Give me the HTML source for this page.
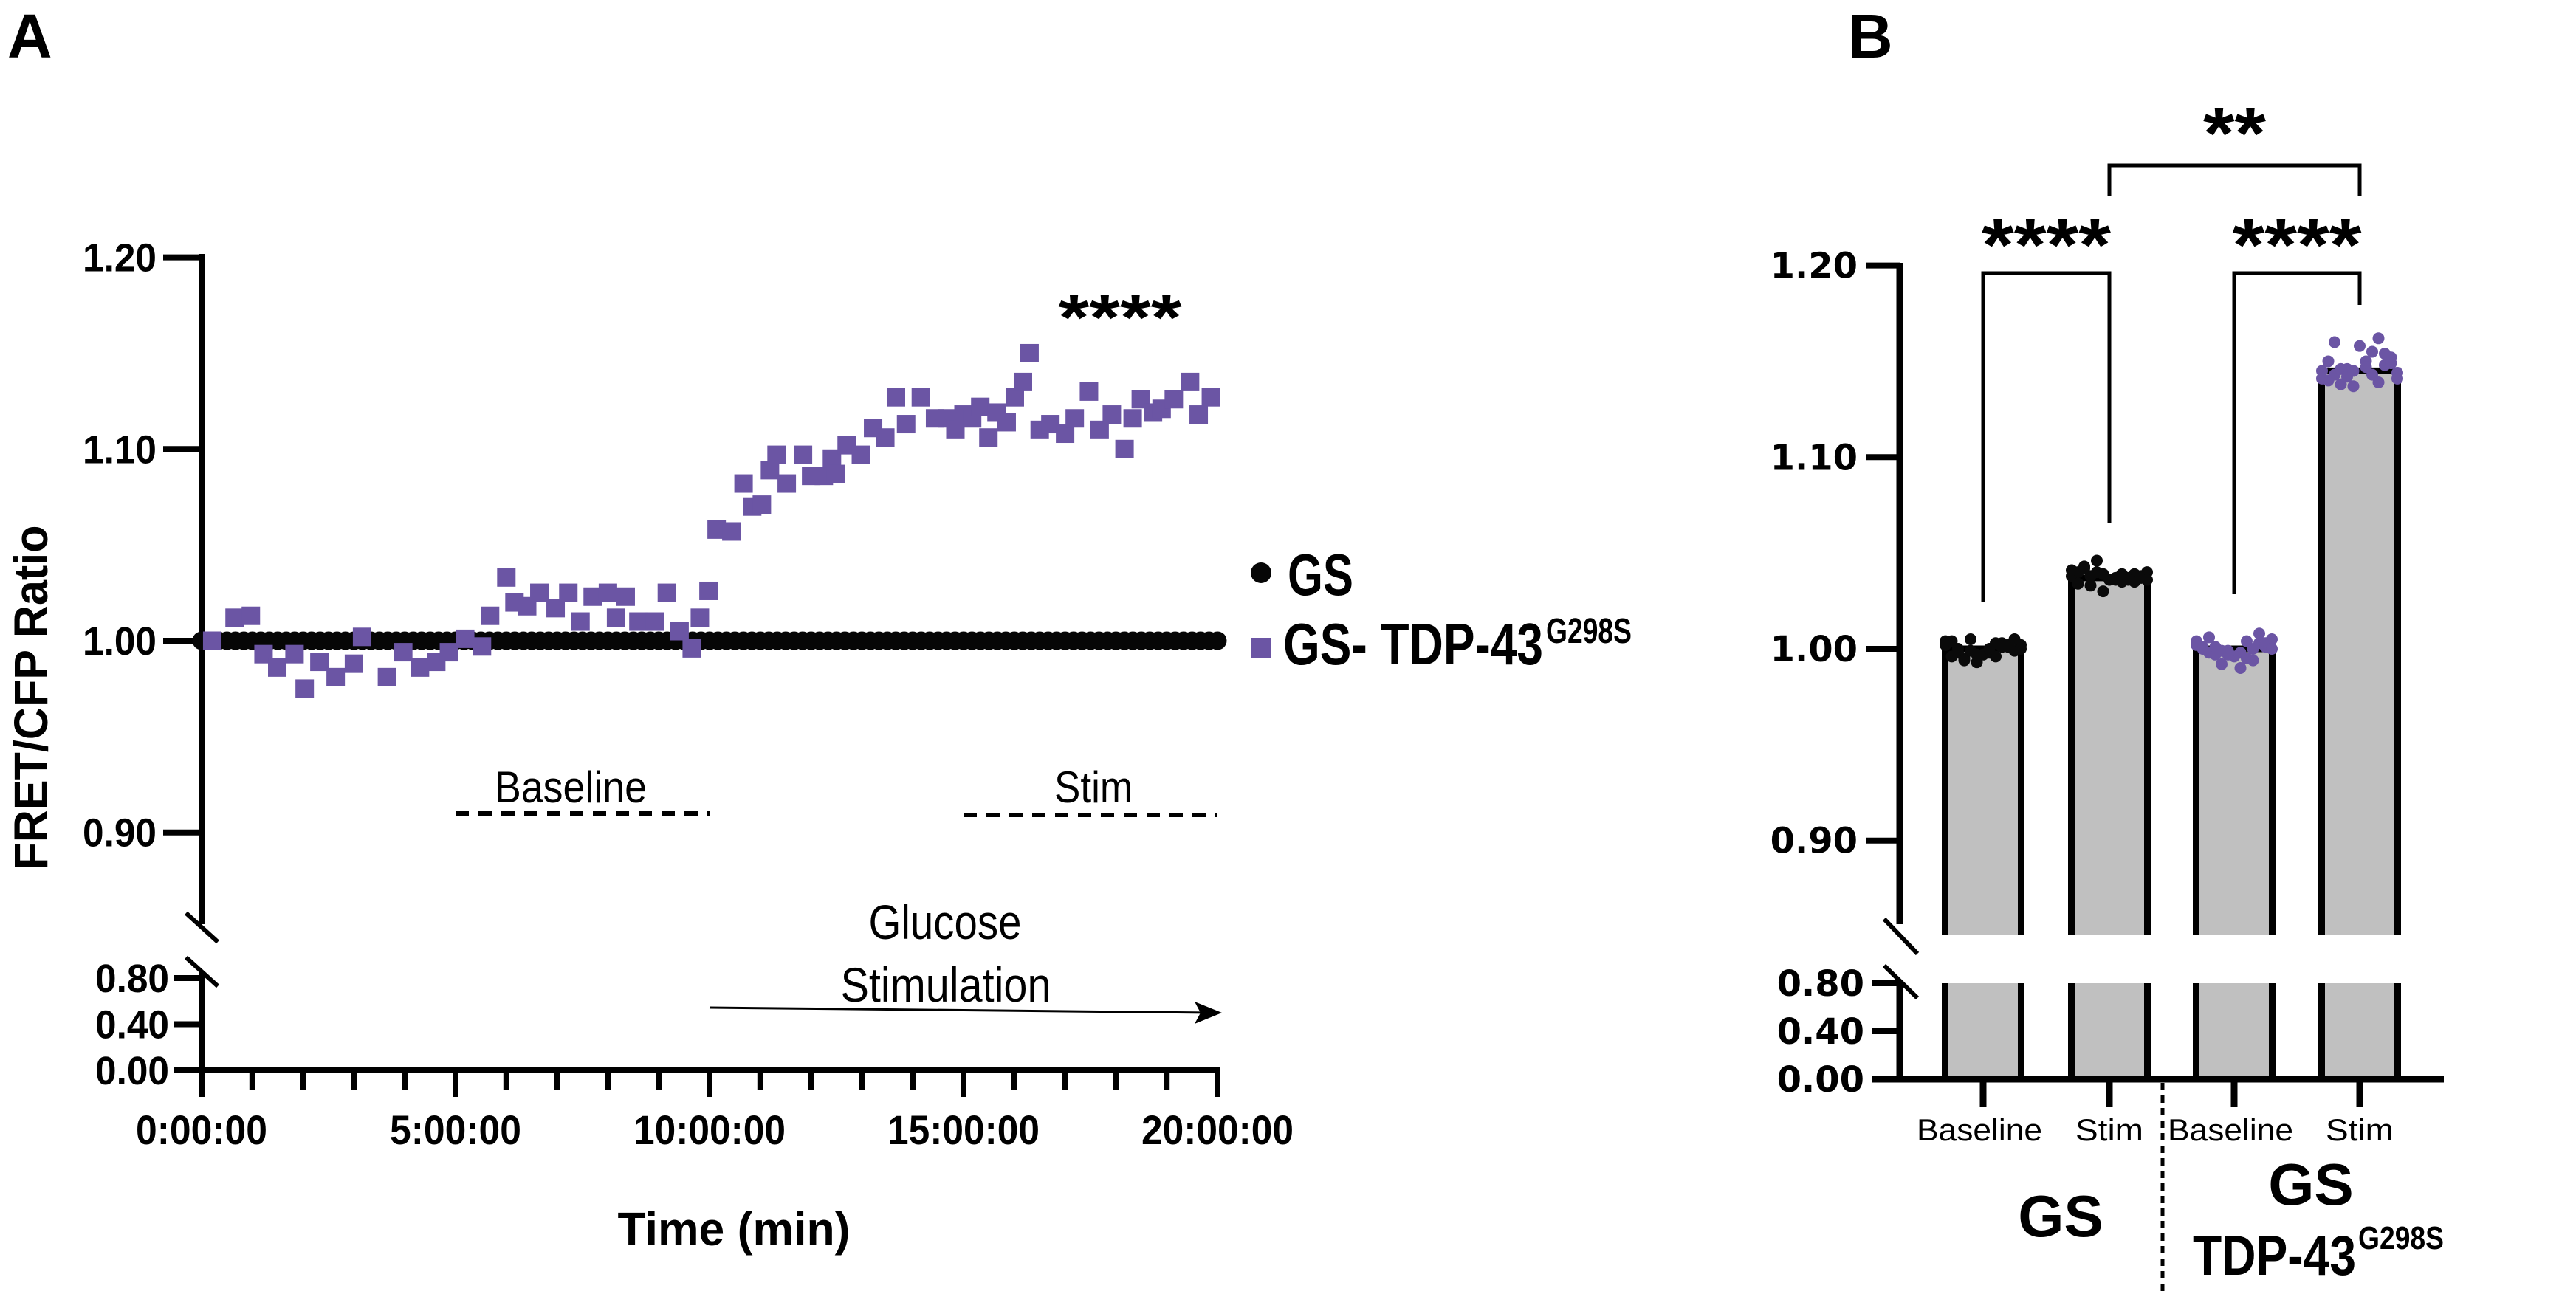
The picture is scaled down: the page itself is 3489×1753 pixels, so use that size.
<!DOCTYPE html>
<html><head><meta charset="utf-8"><style>
html,body{margin:0;padding:0;background:#fff;}
svg{display:block;}
.nb{font-family:"Liberation Sans",sans-serif;font-weight:bold;}
.nr{font-family:"Liberation Sans",sans-serif;}
.wb{font-family:"DejaVu Sans","Liberation Sans",sans-serif;font-weight:bold;}
.ab{font-family:"Liberation Sans",sans-serif;font-weight:bold;}
</style></head><body>
<svg id="fig" width="3489" height="1753" viewBox="0 0 3489 1753" xmlns="http://www.w3.org/2000/svg">
<text x="10" y="78" class="ab" font-size="84">A</text>
<text x="2503" y="78" class="ab" font-size="84">B</text>
<g id="A"></g>
<g id="B"></g>
</svg>
<script>
// ---------- Panel A data ----------
const aTickLabelsUpper = ["0.90","1.00","1.10","1.20"];
const aTickValuesUpper = [0.90,1.00,1.10,1.20];
const aTickLabelsLower = ["0.00","0.40","0.80"];
const aTickValuesLower = [0.00,0.40,0.80];
const aXTickLabels = ["0:00:00","5:00:00","10:00:00","15:00:00","20:00:00"];
const aXTickValues = [0,5,10,15,20];
const gsValues = [1,1,1,1,1,1,1,1,1,1,1,1,1,1,1,1,1,1,1,1,1,1,1,1,1,1,1,1,1,1,1,1,1,1,1,1,1,1,1,1,1,1,1,1,1,1,1,1,1,1,1,1,1,1,1,1,1,1,1,1,1,1,1,1,1,1,1,1,1,1,1,1,1,1,1,1,1,1,1,1,1,1,1,1,1,1,1,1,1,1,1,1,1,1,1,1,1,1,1,1,1,1,1,1,1,1,1,1,1,1,1,1,1,1,1,1,1,1,1,1,1];
const tdpTimes = [0.21,0.65,0.97,1.22,1.49,1.83,2.03,2.32,2.64,3.00,3.16,3.65,3.97,4.30,4.62,4.87,5.19,5.52,5.68,6.00,6.16,6.41,6.65,6.97,7.22,7.46,7.70,8.00,8.16,8.35,8.60,8.92,9.16,9.41,9.65,9.81,9.98,10.14,10.43,10.67,10.84,11.03,11.19,11.32,11.52,11.84,12.00,12.25,12.41,12.49,12.70,12.98,13.22,13.46,13.67,13.87,14.16,14.44,14.68,14.84,15.00,15.17,15.33,15.49,15.65,15.85,16.01,16.17,16.30,16.50,16.71,17.00,17.19,17.47,17.68,17.92,18.17,18.33,18.49,18.73,18.90,19.14,19.46,19.63,19.87];
const tdpValues = [1.000,1.012,1.013,0.993,0.986,0.993,0.975,0.989,0.981,0.988,1.002,0.981,0.994,0.986,0.989,0.994,1.001,0.997,1.013,1.033,1.020,1.018,1.025,1.017,1.025,1.010,1.023,1.025,1.012,1.023,1.010,1.010,1.025,1.005,0.996,1.012,1.026,1.058,1.057,1.082,1.070,1.071,1.089,1.097,1.082,1.097,1.086,1.086,1.095,1.087,1.102,1.097,1.111,1.106,1.127,1.113,1.127,1.116,1.116,1.110,1.118,1.116,1.122,1.106,1.119,1.114,1.127,1.135,1.150,1.110,1.113,1.108,1.116,1.130,1.110,1.118,1.100,1.116,1.126,1.119,1.121,1.126,1.135,1.118,1.127];

// ---------- Panel B data ----------
const bCategories = ["Baseline","Stim","Baseline","Stim"];
const bMeans = [1.000,1.037,1.000,1.145];
const bTickLabelsUpper = ["0.90","1.00","1.10","1.20"];
const bTickValuesUpper = [0.90,1.00,1.10,1.20];
const bTickLabelsLower = ["0.00","0.40","0.80"];
const bTickValuesLower = [0.00,0.40,0.80];
const gsBasePts = [1.002,0.998,1.004,0.996,1.000,1.003,0.995,1.001,1.005,0.999,0.993,1.002,0.997,1.004,1.000,0.996,1.003,0.998,1.001,0.994,1.002,0.999,1.005,0.997,1.000];
const gsStimPts = [1.038,1.036,1.040,1.035,1.042,1.037,1.033,1.039,1.046,1.038,1.030,1.040,1.036,1.041,1.037,1.034,1.039,1.043,1.036,1.038,1.035,1.040,1.037,1.039,1.036];
const tdpBasePts = [1.004,0.998,1.001,0.995,1.006,1.000,0.997,1.003,0.992,1.001,0.999,1.005,0.996,1.002,0.990,1.000,1.004,0.998,0.994,1.001,1.008,0.999,1.003,0.997,1.000];
const tdpStimPts = [1.145,1.150,1.140,1.155,1.143,1.162,1.138,1.148,1.146,1.152,1.137,1.144,1.158,1.141,1.147,1.150,1.143,1.160,1.139,1.146,1.154,1.142,1.149,1.145,1.141];
const bPointSets = [gsBasePts,gsStimPts,tdpBasePts,tdpStimPts];
const bPointColors = ["#0a0a0a","#0a0a0a","#6b55a4","#6b55a4"];

const NS="http://www.w3.org/2000/svg";
function mk(parent,tag,attrs,text){const e=document.createElementNS(NS,tag);for(const k in attrs)e.setAttribute(k,attrs[k]);if(text!==undefined)e.textContent=text;parent.appendChild(e);return e;}
const SQ={lengthAdjust:'spacingAndGlyphs'};

// ---------- Panel A ----------
const A=document.getElementById('A');
const xA=t=>273+t*(1649-273)/20;
const yA=v=>868-(v-1)*2597;
const yAL=v=>1450-v*(125/0.8);
let e;
e=mk(A,'line',{x1:273,y1:344,x2:273,y2:1252,stroke:'#000','stroke-width':8});

e=mk(A,'line',{x1:273,y1:1316,x2:273,y2:1454,stroke:'#000','stroke-width':8});

e=mk(A,'line',{x1:252,y1:1237,x2:295,y2:1276,stroke:'#000','stroke-width':6});

e=mk(A,'line',{x1:252,y1:1297,x2:295,y2:1336,stroke:'#000','stroke-width':6});

e=mk(A,'line',{x1:269,y1:1450,x2:1653,y2:1450,stroke:'#000','stroke-width':8});

aTickValuesUpper.forEach((v,i)=>{
  e=mk(A,'line',{x1:221,y1:yA(v),x2:273,y2:yA(v),stroke:'#000','stroke-width':8});
  
  e=mk(A,'text',{x:212,y:yA(v)+19,'text-anchor':'end','font-size':54,class:'nb',textLength:100,...SQ},aTickLabelsUpper[i]);
  
});
aTickValuesLower.forEach((v,i)=>{
  e=mk(A,'line',{x1:235,y1:yAL(v),x2:273,y2:yAL(v),stroke:'#000','stroke-width':8});
  
  e=mk(A,'text',{x:229,y:yAL(v)+19,'text-anchor':'end','font-size':54,class:'nb',textLength:100,...SQ},aTickLabelsLower[i]);
  
});
for(let m=0;m<=20;m++){
  const major=m%5===0;
  e=mk(A,'line',{x1:xA(m),y1:1450,x2:xA(m),y2:major?1486:1476,stroke:'#000','stroke-width':8});
  
}
aXTickValues.forEach((t,i)=>{
  const L=aXTickLabels[i].length>7?206:178;
  e=mk(A,'text',{x:xA(t),y:1550,'text-anchor':'middle','font-size':56,class:'nb',textLength:L,...SQ},aXTickLabels[i]);
  
});
e=mk(A,'text',{x:994,y:1687,'text-anchor':'middle','font-size':64,class:'nb',textLength:315,...SQ},'Time (min)');

e=mk(A,'text',{x:0,y:0,'text-anchor':'middle','font-size':64,class:'ab',textLength:467,...SQ,transform:'translate(64,945) rotate(-90)'},'FRET/CFP Ratio');

gsValues.forEach((v,i)=>{
  e=mk(A,'circle',{cx:xA(i/6),cy:yA(v),r:12.5,fill:'#060606'});
  
});
tdpValues.forEach((v,i)=>{
  e=mk(A,'rect',{x:xA(tdpTimes[i])-12.5,y:yA(v)-12.5,width:25,height:25,fill:'#6b55a4'});
  
});
e=mk(A,'text',{x:1517,y:460,'text-anchor':'middle','font-size':88,class:'ab',textLength:167,...SQ},'****');

e=mk(A,'text',{x:773,y:1087,'text-anchor':'middle','font-size':60,class:'nr',textLength:206,...SQ},'Baseline');

e=mk(A,'line',{x1:xA(5),y1:1102,x2:xA(10),y2:1102,stroke:'#000','stroke-width':6,'stroke-dasharray':'18 13'});

e=mk(A,'text',{x:1481,y:1087,'text-anchor':'middle','font-size':60,class:'nr',textLength:106,...SQ},'Stim');

e=mk(A,'line',{x1:xA(15),y1:1104,x2:xA(20),y2:1104,stroke:'#000','stroke-width':6,'stroke-dasharray':'18 13'});

e=mk(A,'text',{x:1280,y:1272,'text-anchor':'middle','font-size':66,class:'nr',textLength:207,...SQ},'Glucose');

e=mk(A,'text',{x:1281,y:1357,'text-anchor':'middle','font-size':66,class:'nr',textLength:285,...SQ},'Stimulation');

e=mk(A,'line',{x1:xA(10),y1:1365,x2:1640,y2:1372,stroke:'#000','stroke-width':3});

e=mk(A,'path',{d:'M1655 1372 L1618 1357 L1626 1372 L1618 1387 Z',fill:'#000'});

e=mk(A,'circle',{cx:1708,cy:776,r:14,fill:'#060606'});

e=mk(A,'text',{x:1744,y:806,'font-size':80,class:'nb',textLength:89,...SQ},'GS');

e=mk(A,'rect',{x:1694,y:864,width:27,height:27,fill:'#6b55a4'});

e=mk(A,'text',{x:1738,y:900,'font-size':80,class:'nb',textLength:352,...SQ},'GS- TDP-43');

e=mk(A,'text',{x:2094,y:871,'font-size':48,class:'nb',textLength:116,...SQ},'G298S');


// ---------- Panel B ----------
const B=document.getElementById('B');
const yB=v=>879-(v-1)*2597;
const yBL=v=>1462-v*(130/0.8);
const barCenters=[2686,2857,3026,3196];
const bw=111, breakTop=1266, breakBot=1332;
e=mk(B,'line',{x1:2573,y1:356,x2:2573,y2:1252,stroke:'#000','stroke-width':9});

e=mk(B,'line',{x1:2573,y1:1330,x2:2573,y2:1466,stroke:'#000','stroke-width':9});

e=mk(B,'line',{x1:2552,y1:1245,x2:2597,y2:1292,stroke:'#000','stroke-width':6});

e=mk(B,'line',{x1:2552,y1:1308,x2:2597,y2:1352,stroke:'#000','stroke-width':6});

bTickValuesUpper.forEach((v,i)=>{
  e=mk(B,'line',{x1:2527,y1:yB(v),x2:2573,y2:yB(v),stroke:'#000','stroke-width':8});
  
  e=mk(B,'text',{x:2516,y:yB(v)+17,'text-anchor':'end','font-size':48,class:'wb'},bTickLabelsUpper[i]);
  
});
bTickValuesLower.forEach((v,i)=>{
  e=mk(B,'line',{x1:2536,y1:yBL(v),x2:2573,y2:yBL(v),stroke:'#000','stroke-width':8});
  
  e=mk(B,'text',{x:2525,y:yBL(v)+17,'text-anchor':'end','font-size':48,class:'wb'},bTickLabelsLower[i]);
  
});
bMeans.forEach((m,i)=>{
  const cx=barCenters[i], l=cx-bw/2, r=cx+bw/2;
  e=mk(B,'rect',{x:l,y:yB(m),width:bw,height:breakTop-yB(m),fill:'#c0c0c0'});
  
  e=mk(B,'rect',{x:l,y:breakBot,width:bw,height:1462-breakBot,fill:'#c0c0c0'});
  
  e=mk(B,'path',{d:`M${l+4} ${breakTop} L${l+4} ${yB(m)} L${r-4} ${yB(m)} L${r-4} ${breakTop} M${l+4} ${breakBot} L${l+4} 1462 M${r-4} ${breakBot} L${r-4} 1462`,fill:'none',stroke:'#000','stroke-width':9});
  
  e=mk(B,'line',{x1:cx,y1:1462,x2:cx,y2:1500,stroke:'#000','stroke-width':9});
  
  e=mk(B,'text',{x:cx-(i%2===0?5:0),y:1545,'text-anchor':'middle','font-size':42,class:'nr',textLength:(i%2===0?170:92),...SQ},bCategories[i]);
  
  bPointSets[i].forEach((v,j)=>{
    const dx=((j*7)%13-6)*8.5;
    e=mk(B,'circle',{cx:cx+dx,cy:yB(v),r:8,fill:bPointColors[i]});
    
  });
});
e=mk(B,'line',{x1:2536,y1:1462,x2:3310,y2:1462,stroke:'#000','stroke-width':9});

function bracket(x1,x2,yTop,y1,y2,label,ly,name,tl){
  const g=mk(B,'g',{});
  
  mk(g,'path',{d:`M${x1} ${y1} L${x1} ${yTop} L${x2} ${yTop} L${x2} ${y2}`,fill:'none',stroke:'#000','stroke-width':5});
  mk(g,'text',{x:(x1+x2)/2,y:ly,'text-anchor':'middle','font-size':100,class:'ab',textLength:tl,...SQ},label);
}
bracket(2686,2857,370,815,709,'****',366,'bracket-gs',175);
bracket(3026,3196,370,805,413,'****',366,'bracket-tdp',175);
bracket(2857,3196,224,266,266,'**',215,'bracket-stim',85);
e=mk(B,'line',{x1:2929,y1:1467,x2:2929,y2:1753,stroke:'#000','stroke-width':5,'stroke-dasharray':'10 7'});

e=mk(B,'text',{x:2791,y:1675,'text-anchor':'middle','font-size':80,class:'ab'},'GS');

e=mk(B,'text',{x:3130,y:1632,'text-anchor':'middle','font-size':80,class:'ab'},'GS');

e=mk(B,'text',{x:2970,y:1727,'font-size':76,class:'ab',textLength:221,...SQ},'TDP-43');

e=mk(B,'text',{x:3194,y:1692,'font-size':44,class:'ab',textLength:116,...SQ},'G298S');

</script>
</body></html>
